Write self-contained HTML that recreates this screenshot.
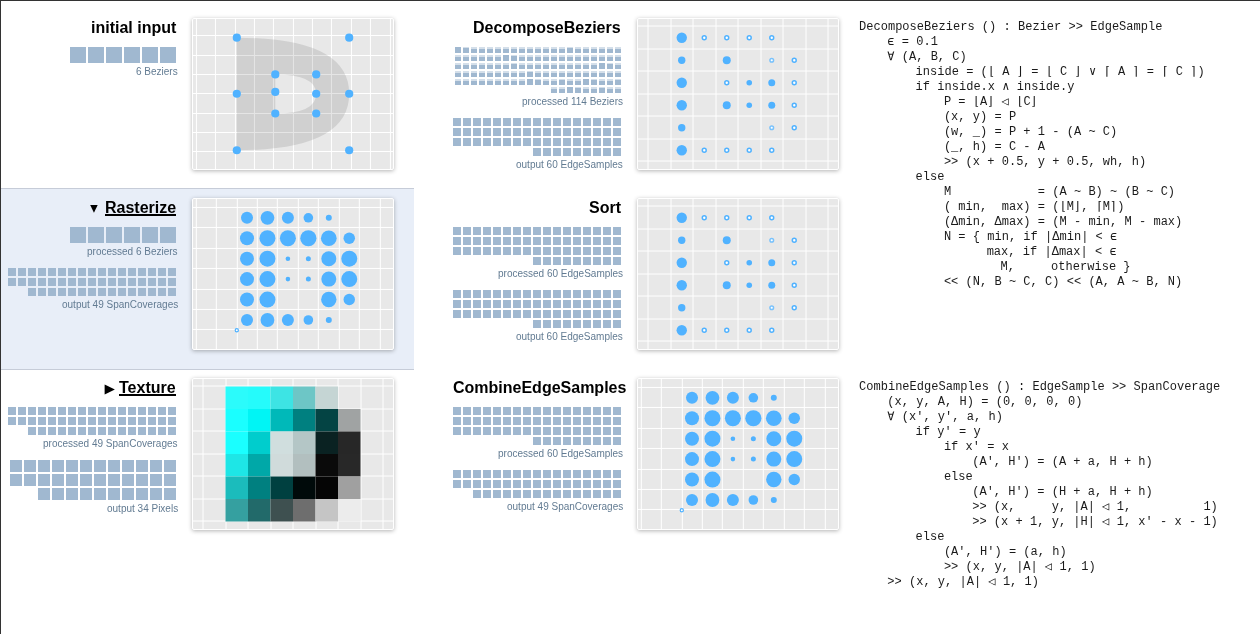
<!DOCTYPE html>
<html lang="en"><head><meta charset="utf-8"><title>Nile Viewer</title>
<style>
html,body{margin:0;padding:0;background:#fff}
body{width:1260px;height:634px;position:relative;overflow:hidden;font-family:"Liberation Sans",sans-serif}
.bt{position:absolute;left:0;top:0;width:1260px;height:1px;background:#333}
.bl{position:absolute;left:0;top:0;width:1px;height:634px;background:#333}
.sel{position:absolute;left:1px;top:188px;width:413px;height:180px;background:#e8eef8;border-top:1px solid #c6ccd8;border-bottom:1px solid #c6ccd8}
.t{will-change:transform;position:absolute;font-weight:bold;font-size:16px;line-height:18px;height:18px;white-space:nowrap;color:#000}
.t u{text-decoration:none}
.ul{position:absolute;height:2px;background:#000}
.cap{will-change:transform;position:absolute;font-size:10px;line-height:12px;height:12px;color:#627b92;white-space:nowrap}
.cv{position:absolute;width:200px;height:150px;border:1px solid #fff;border-radius:2px;box-shadow:0 1px 4px rgba(0,0,0,.3);background:#e8e8e8;overflow:hidden}
.cv svg{display:block}
svg.b{position:absolute;shape-rendering:crispEdges}
svg.tri{position:absolute}
pre{will-change:transform;position:absolute;margin:0;font-family:"Liberation Mono",monospace;font-size:12px;line-height:15px;color:#1a1a1a;letter-spacing:0.024px}
pre b{display:inline-block;height:1px}
pre i{font-style:normal;display:inline-block;width:7.224px;text-align:center;letter-spacing:0}
</style></head><body>
<div class="bt"></div><div class="bl"></div>
<div class="sel"></div>
<div class="t" style="right:1084px;top:19px">initial input</div>
<svg class="b" style="left:70px;top:47px" width="106" height="16" viewBox="0 0 106 16"><path fill="#a0b8d0" d="M0 0h16v16h-16zM18 0h16v16h-16zM36 0h16v16h-16zM54 0h16v16h-16zM72 0h16v16h-16zM90 0h16v16h-16z"/></svg>
<div class="cap" style="right:1082px;top:66px">6 Beziers</div>
<div class="t" style="right:1084px;top:199px"><u>Rasterize</u></div>
<div class="ul" style="left:105px;top:214px;width:71px"></div>
<svg class="tri" style="left:89px;top:204px" width="10" height="10" viewBox="0 0 10 10"><path d="M1.2 1L8.7 1L4.95 8.7z" fill="#000"/></svg>
<svg class="b" style="left:70px;top:227px" width="106" height="16" viewBox="0 0 106 16"><path fill="#a0b8d0" d="M0 0h16v16h-16zM18 0h16v16h-16zM36 0h16v16h-16zM54 0h16v16h-16zM72 0h16v16h-16zM90 0h16v16h-16z"/></svg>
<div class="cap" style="right:1082px;top:246px">processed 6 Beziers</div>
<svg class="b" style="left:8px;top:268px" width="168" height="28" viewBox="0 0 168 28"><path fill="#a0b8d0" d="M0 0h8v8h-8zM10 0h8v8h-8zM20 0h8v8h-8zM30 0h8v8h-8zM40 0h8v8h-8zM50 0h8v8h-8zM60 0h8v8h-8zM70 0h8v8h-8zM80 0h8v8h-8zM90 0h8v8h-8zM100 0h8v8h-8zM110 0h8v8h-8zM120 0h8v8h-8zM130 0h8v8h-8zM140 0h8v8h-8zM150 0h8v8h-8zM160 0h8v8h-8zM0 10h8v8h-8zM10 10h8v8h-8zM20 10h8v8h-8zM30 10h8v8h-8zM40 10h8v8h-8zM50 10h8v8h-8zM60 10h8v8h-8zM70 10h8v8h-8zM80 10h8v8h-8zM90 10h8v8h-8zM100 10h8v8h-8zM110 10h8v8h-8zM120 10h8v8h-8zM130 10h8v8h-8zM140 10h8v8h-8zM150 10h8v8h-8zM160 10h8v8h-8zM20 20h8v8h-8zM30 20h8v8h-8zM40 20h8v8h-8zM50 20h8v8h-8zM60 20h8v8h-8zM70 20h8v8h-8zM80 20h8v8h-8zM90 20h8v8h-8zM100 20h8v8h-8zM110 20h8v8h-8zM120 20h8v8h-8zM130 20h8v8h-8zM140 20h8v8h-8zM150 20h8v8h-8zM160 20h8v8h-8z"/></svg>
<div class="cap" style="right:1082px;top:299px">output 49 SpanCoverages</div>
<div class="t" style="right:1084px;top:379px"><u>Texture</u></div>
<div class="ul" style="left:119px;top:394px;width:57px"></div>
<svg class="tri" style="left:104px;top:384px" width="12" height="12" viewBox="0 0 12 12"><path d="M0.65 0.5L10.9 5.5L0.65 10.5z" fill="#000"/></svg>
<svg class="b" style="left:8px;top:407px" width="168" height="28" viewBox="0 0 168 28"><path fill="#a0b8d0" d="M0 0h8v8h-8zM10 0h8v8h-8zM20 0h8v8h-8zM30 0h8v8h-8zM40 0h8v8h-8zM50 0h8v8h-8zM60 0h8v8h-8zM70 0h8v8h-8zM80 0h8v8h-8zM90 0h8v8h-8zM100 0h8v8h-8zM110 0h8v8h-8zM120 0h8v8h-8zM130 0h8v8h-8zM140 0h8v8h-8zM150 0h8v8h-8zM160 0h8v8h-8zM0 10h8v8h-8zM10 10h8v8h-8zM20 10h8v8h-8zM30 10h8v8h-8zM40 10h8v8h-8zM50 10h8v8h-8zM60 10h8v8h-8zM70 10h8v8h-8zM80 10h8v8h-8zM90 10h8v8h-8zM100 10h8v8h-8zM110 10h8v8h-8zM120 10h8v8h-8zM130 10h8v8h-8zM140 10h8v8h-8zM150 10h8v8h-8zM160 10h8v8h-8zM20 20h8v8h-8zM30 20h8v8h-8zM40 20h8v8h-8zM50 20h8v8h-8zM60 20h8v8h-8zM70 20h8v8h-8zM80 20h8v8h-8zM90 20h8v8h-8zM100 20h8v8h-8zM110 20h8v8h-8zM120 20h8v8h-8zM130 20h8v8h-8zM140 20h8v8h-8zM150 20h8v8h-8zM160 20h8v8h-8z"/></svg>
<div class="cap" style="right:1082px;top:438px">processed 49 SpanCoverages</div>
<svg class="b" style="left:10px;top:460px" width="166" height="40" viewBox="0 0 166 40"><path fill="#a0b8d0" d="M0 0h12v12h-12zM14 0h12v12h-12zM28 0h12v12h-12zM42 0h12v12h-12zM56 0h12v12h-12zM70 0h12v12h-12zM84 0h12v12h-12zM98 0h12v12h-12zM112 0h12v12h-12zM126 0h12v12h-12zM140 0h12v12h-12zM154 0h12v12h-12zM0 14h12v12h-12zM14 14h12v12h-12zM28 14h12v12h-12zM42 14h12v12h-12zM56 14h12v12h-12zM70 14h12v12h-12zM84 14h12v12h-12zM98 14h12v12h-12zM112 14h12v12h-12zM126 14h12v12h-12zM140 14h12v12h-12zM154 14h12v12h-12zM28 28h12v12h-12zM42 28h12v12h-12zM56 28h12v12h-12zM70 28h12v12h-12zM84 28h12v12h-12zM98 28h12v12h-12zM112 28h12v12h-12zM126 28h12v12h-12zM140 28h12v12h-12zM154 28h12v12h-12z"/></svg>
<div class="cap" style="right:1082px;top:503px">output 34 Pixels</div>
<div class="t" style="right:639px;top:19px">DecomposeBeziers</div>
<svg class="b" style="left:455px;top:47px" width="166" height="46" viewBox="0 0 166 46"><path fill="#d4dfea" d="M8 0h6v1h-6zM16 0h6v2h-6zM24 0h6v2h-6zM32 0h6v2h-6zM40 0h6v2h-6zM48 0h6v2h-6zM56 0h6v2h-6zM64 0h6v2h-6zM72 0h6v2h-6zM80 0h6v2h-6zM88 0h6v2h-6zM96 0h6v2h-6zM104 0h6v2h-6zM112 0h6v0.5h-6zM120 0h6v2h-6zM128 0h6v2h-6zM136 0h6v2h-6zM144 0h6v2h-6zM152 0h6v2h-6zM160 0h6v2h-6zM0 8h6v2h-6zM8 8h6v2h-6zM16 8h6v2h-6zM24 8h6v2h-6zM32 8h6v2h-6zM40 8h6v2h-6zM56 8h6v1h-6zM64 8h6v2h-6zM72 8h6v2h-6zM80 8h6v2h-6zM88 8h6v2h-6zM96 8h6v2h-6zM104 8h6v2h-6zM112 8h6v2h-6zM120 8h6v2h-6zM128 8h6v2h-6zM136 8h6v2h-6zM144 8h6v2h-6zM152 8h6v2h-6zM160 8h6v2h-6zM0 16h6v2h-6zM8 16h6v2h-6zM16 16h6v2h-6zM24 16h6v2h-6zM32 16h6v2h-6zM40 16h6v2h-6zM48 16h6v2h-6zM56 16h6v1h-6zM64 16h6v2h-6zM72 16h6v2h-6zM80 16h6v2h-6zM88 16h6v2h-6zM96 16h6v2h-6zM104 16h6v2h-6zM112 16h6v2h-6zM120 16h6v2h-6zM128 16h6v2h-6zM136 16h6v2h-6zM152 16h6v1h-6zM160 16h6v2h-6zM0 24h6v2h-6zM8 24h6v2h-6zM16 24h6v2h-6zM24 24h6v2h-6zM32 24h6v2h-6zM40 24h6v2h-6zM48 24h6v2h-6zM56 24h6v2h-6zM64 24h6v2h-6zM72 24h6v0.5h-6zM80 24h6v2h-6zM88 24h6v2h-6zM96 24h6v2h-6zM104 24h6v2h-6zM112 24h6v2h-6zM120 24h6v2h-6zM128 24h6v2h-6zM136 24h6v2h-6zM144 24h6v2h-6zM152 24h6v2h-6zM160 24h6v2h-6zM0 32h6v2h-6zM8 32h6v2h-6zM16 32h6v2h-6zM24 32h6v2h-6zM32 32h6v2h-6zM40 32h6v2h-6zM48 32h6v2h-6zM56 32h6v2h-6zM64 32h6v2h-6zM80 32h6v1h-6zM88 32h6v2h-6zM96 32h6v2h-6zM104 32h6v1h-6zM112 32h6v2h-6zM120 32h6v2h-6zM136 32h6v1h-6zM144 32h6v2h-6zM152 32h6v2h-6zM160 32h6v1h-6zM96 40h6v2h-6zM104 40h6v2h-6zM120 40h6v1h-6zM128 40h6v2h-6zM136 40h6v2h-6zM144 40h6v1h-6zM152 40h6v2h-6zM160 40h6v2h-6z"/><path fill="#a0b8d0" d="M0 0h6v6h-6zM8 1h6v5h-6zM16 2h6v4h-6zM24 2h6v4h-6zM32 2h6v4h-6zM40 2h6v4h-6zM48 2h6v4h-6zM56 2h6v4h-6zM64 2h6v4h-6zM72 2h6v4h-6zM80 2h6v4h-6zM88 2h6v4h-6zM96 2h6v4h-6zM104 2h6v4h-6zM112 0.5h6v5.5h-6zM120 2h6v4h-6zM128 2h6v4h-6zM136 2h6v4h-6zM144 2h6v4h-6zM152 2h6v4h-6zM160 2h6v4h-6zM0 10h6v4h-6zM8 10h6v4h-6zM16 10h6v4h-6zM24 10h6v4h-6zM32 10h6v4h-6zM40 10h6v4h-6zM48 8h6v6h-6zM56 9h6v5h-6zM64 10h6v4h-6zM72 10h6v4h-6zM80 10h6v4h-6zM88 10h6v4h-6zM96 10h6v4h-6zM104 10h6v4h-6zM112 10h6v4h-6zM120 10h6v4h-6zM128 10h6v4h-6zM136 10h6v4h-6zM144 10h6v4h-6zM152 10h6v4h-6zM160 10h6v4h-6zM0 18h6v4h-6zM8 18h6v4h-6zM16 18h6v4h-6zM24 18h6v4h-6zM32 18h6v4h-6zM40 18h6v4h-6zM48 18h6v4h-6zM56 17h6v5h-6zM64 18h6v4h-6zM72 18h6v4h-6zM80 18h6v4h-6zM88 18h6v4h-6zM96 18h6v4h-6zM104 18h6v4h-6zM112 18h6v4h-6zM120 18h6v4h-6zM128 18h6v4h-6zM136 18h6v4h-6zM144 16h6v6h-6zM152 17h6v5h-6zM160 18h6v4h-6zM0 26h6v4h-6zM8 26h6v4h-6zM16 26h6v4h-6zM24 26h6v4h-6zM32 26h6v4h-6zM40 26h6v4h-6zM48 26h6v4h-6zM56 26h6v4h-6zM64 26h6v4h-6zM72 24.5h6v5.5h-6zM80 26h6v4h-6zM88 26h6v4h-6zM96 26h6v4h-6zM104 26h6v4h-6zM112 26h6v4h-6zM120 26h6v4h-6zM128 26h6v4h-6zM136 26h6v4h-6zM144 26h6v4h-6zM152 26h6v4h-6zM160 26h6v4h-6zM0 34h6v4h-6zM8 34h6v4h-6zM16 34h6v4h-6zM24 34h6v4h-6zM32 34h6v4h-6zM40 34h6v4h-6zM48 34h6v4h-6zM56 34h6v4h-6zM64 34h6v4h-6zM72 32h6v6h-6zM80 33h6v5h-6zM88 34h6v4h-6zM96 34h6v4h-6zM104 33h6v5h-6zM112 34h6v4h-6zM120 34h6v4h-6zM128 32h6v6h-6zM136 33h6v5h-6zM144 34h6v4h-6zM152 34h6v4h-6zM160 33h6v5h-6zM96 42h6v4h-6zM104 42h6v4h-6zM112 40h6v6h-6zM120 41h6v5h-6zM128 42h6v4h-6zM136 42h6v4h-6zM144 41h6v5h-6zM152 42h6v4h-6zM160 42h6v4h-6z"/></svg>
<div class="cap" style="right:637px;top:96px">processed 114 Beziers</div>
<svg class="b" style="left:453px;top:118px" width="168" height="38" viewBox="0 0 168 38"><path fill="#a0b8d0" d="M0 0h8v8h-8zM10 0h8v8h-8zM20 0h8v8h-8zM30 0h8v8h-8zM40 0h8v8h-8zM50 0h8v8h-8zM60 0h8v8h-8zM70 0h8v8h-8zM80 0h8v8h-8zM90 0h8v8h-8zM100 0h8v8h-8zM110 0h8v8h-8zM120 0h8v8h-8zM130 0h8v8h-8zM140 0h8v8h-8zM150 0h8v8h-8zM160 0h8v8h-8zM0 10h8v8h-8zM10 10h8v8h-8zM20 10h8v8h-8zM30 10h8v8h-8zM40 10h8v8h-8zM50 10h8v8h-8zM60 10h8v8h-8zM70 10h8v8h-8zM80 10h8v8h-8zM90 10h8v8h-8zM100 10h8v8h-8zM110 10h8v8h-8zM120 10h8v8h-8zM130 10h8v8h-8zM140 10h8v8h-8zM150 10h8v8h-8zM160 10h8v8h-8zM0 20h8v8h-8zM10 20h8v8h-8zM20 20h8v8h-8zM30 20h8v8h-8zM40 20h8v8h-8zM50 20h8v8h-8zM60 20h8v8h-8zM70 20h8v8h-8zM80 20h8v8h-8zM90 20h8v8h-8zM100 20h8v8h-8zM110 20h8v8h-8zM120 20h8v8h-8zM130 20h8v8h-8zM140 20h8v8h-8zM150 20h8v8h-8zM160 20h8v8h-8zM80 30h8v8h-8zM90 30h8v8h-8zM100 30h8v8h-8zM110 30h8v8h-8zM120 30h8v8h-8zM130 30h8v8h-8zM140 30h8v8h-8zM150 30h8v8h-8zM160 30h8v8h-8z"/></svg>
<div class="cap" style="right:637px;top:159px">output 60 EdgeSamples</div>
<div class="t" style="right:639px;top:199px">Sort</div>
<svg class="b" style="left:453px;top:227px" width="168" height="38" viewBox="0 0 168 38"><path fill="#a0b8d0" d="M0 0h8v8h-8zM10 0h8v8h-8zM20 0h8v8h-8zM30 0h8v8h-8zM40 0h8v8h-8zM50 0h8v8h-8zM60 0h8v8h-8zM70 0h8v8h-8zM80 0h8v8h-8zM90 0h8v8h-8zM100 0h8v8h-8zM110 0h8v8h-8zM120 0h8v8h-8zM130 0h8v8h-8zM140 0h8v8h-8zM150 0h8v8h-8zM160 0h8v8h-8zM0 10h8v8h-8zM10 10h8v8h-8zM20 10h8v8h-8zM30 10h8v8h-8zM40 10h8v8h-8zM50 10h8v8h-8zM60 10h8v8h-8zM70 10h8v8h-8zM80 10h8v8h-8zM90 10h8v8h-8zM100 10h8v8h-8zM110 10h8v8h-8zM120 10h8v8h-8zM130 10h8v8h-8zM140 10h8v8h-8zM150 10h8v8h-8zM160 10h8v8h-8zM0 20h8v8h-8zM10 20h8v8h-8zM20 20h8v8h-8zM30 20h8v8h-8zM40 20h8v8h-8zM50 20h8v8h-8zM60 20h8v8h-8zM70 20h8v8h-8zM80 20h8v8h-8zM90 20h8v8h-8zM100 20h8v8h-8zM110 20h8v8h-8zM120 20h8v8h-8zM130 20h8v8h-8zM140 20h8v8h-8zM150 20h8v8h-8zM160 20h8v8h-8zM80 30h8v8h-8zM90 30h8v8h-8zM100 30h8v8h-8zM110 30h8v8h-8zM120 30h8v8h-8zM130 30h8v8h-8zM140 30h8v8h-8zM150 30h8v8h-8zM160 30h8v8h-8z"/></svg>
<div class="cap" style="right:637px;top:268px">processed 60 EdgeSamples</div>
<svg class="b" style="left:453px;top:290px" width="168" height="38" viewBox="0 0 168 38"><path fill="#a0b8d0" d="M0 0h8v8h-8zM10 0h8v8h-8zM20 0h8v8h-8zM30 0h8v8h-8zM40 0h8v8h-8zM50 0h8v8h-8zM60 0h8v8h-8zM70 0h8v8h-8zM80 0h8v8h-8zM90 0h8v8h-8zM100 0h8v8h-8zM110 0h8v8h-8zM120 0h8v8h-8zM130 0h8v8h-8zM140 0h8v8h-8zM150 0h8v8h-8zM160 0h8v8h-8zM0 10h8v8h-8zM10 10h8v8h-8zM20 10h8v8h-8zM30 10h8v8h-8zM40 10h8v8h-8zM50 10h8v8h-8zM60 10h8v8h-8zM70 10h8v8h-8zM80 10h8v8h-8zM90 10h8v8h-8zM100 10h8v8h-8zM110 10h8v8h-8zM120 10h8v8h-8zM130 10h8v8h-8zM140 10h8v8h-8zM150 10h8v8h-8zM160 10h8v8h-8zM0 20h8v8h-8zM10 20h8v8h-8zM20 20h8v8h-8zM30 20h8v8h-8zM40 20h8v8h-8zM50 20h8v8h-8zM60 20h8v8h-8zM70 20h8v8h-8zM80 20h8v8h-8zM90 20h8v8h-8zM100 20h8v8h-8zM110 20h8v8h-8zM120 20h8v8h-8zM130 20h8v8h-8zM140 20h8v8h-8zM150 20h8v8h-8zM160 20h8v8h-8zM80 30h8v8h-8zM90 30h8v8h-8zM100 30h8v8h-8zM110 30h8v8h-8zM120 30h8v8h-8zM130 30h8v8h-8zM140 30h8v8h-8zM150 30h8v8h-8zM160 30h8v8h-8z"/></svg>
<div class="cap" style="right:637px;top:331px">output 60 EdgeSamples</div>
<div class="t" style="left:453px;top:379px">CombineEdgeSamples</div>
<svg class="b" style="left:453px;top:407px" width="168" height="38" viewBox="0 0 168 38"><path fill="#a0b8d0" d="M0 0h8v8h-8zM10 0h8v8h-8zM20 0h8v8h-8zM30 0h8v8h-8zM40 0h8v8h-8zM50 0h8v8h-8zM60 0h8v8h-8zM70 0h8v8h-8zM80 0h8v8h-8zM90 0h8v8h-8zM100 0h8v8h-8zM110 0h8v8h-8zM120 0h8v8h-8zM130 0h8v8h-8zM140 0h8v8h-8zM150 0h8v8h-8zM160 0h8v8h-8zM0 10h8v8h-8zM10 10h8v8h-8zM20 10h8v8h-8zM30 10h8v8h-8zM40 10h8v8h-8zM50 10h8v8h-8zM60 10h8v8h-8zM70 10h8v8h-8zM80 10h8v8h-8zM90 10h8v8h-8zM100 10h8v8h-8zM110 10h8v8h-8zM120 10h8v8h-8zM130 10h8v8h-8zM140 10h8v8h-8zM150 10h8v8h-8zM160 10h8v8h-8zM0 20h8v8h-8zM10 20h8v8h-8zM20 20h8v8h-8zM30 20h8v8h-8zM40 20h8v8h-8zM50 20h8v8h-8zM60 20h8v8h-8zM70 20h8v8h-8zM80 20h8v8h-8zM90 20h8v8h-8zM100 20h8v8h-8zM110 20h8v8h-8zM120 20h8v8h-8zM130 20h8v8h-8zM140 20h8v8h-8zM150 20h8v8h-8zM160 20h8v8h-8zM80 30h8v8h-8zM90 30h8v8h-8zM100 30h8v8h-8zM110 30h8v8h-8zM120 30h8v8h-8zM130 30h8v8h-8zM140 30h8v8h-8zM150 30h8v8h-8zM160 30h8v8h-8z"/></svg>
<div class="cap" style="right:637px;top:448px">processed 60 EdgeSamples</div>
<svg class="b" style="left:453px;top:470px" width="168" height="28" viewBox="0 0 168 28"><path fill="#a0b8d0" d="M0 0h8v8h-8zM10 0h8v8h-8zM20 0h8v8h-8zM30 0h8v8h-8zM40 0h8v8h-8zM50 0h8v8h-8zM60 0h8v8h-8zM70 0h8v8h-8zM80 0h8v8h-8zM90 0h8v8h-8zM100 0h8v8h-8zM110 0h8v8h-8zM120 0h8v8h-8zM130 0h8v8h-8zM140 0h8v8h-8zM150 0h8v8h-8zM160 0h8v8h-8zM0 10h8v8h-8zM10 10h8v8h-8zM20 10h8v8h-8zM30 10h8v8h-8zM40 10h8v8h-8zM50 10h8v8h-8zM60 10h8v8h-8zM70 10h8v8h-8zM80 10h8v8h-8zM90 10h8v8h-8zM100 10h8v8h-8zM110 10h8v8h-8zM120 10h8v8h-8zM130 10h8v8h-8zM140 10h8v8h-8zM150 10h8v8h-8zM160 10h8v8h-8zM20 20h8v8h-8zM30 20h8v8h-8zM40 20h8v8h-8zM50 20h8v8h-8zM60 20h8v8h-8zM70 20h8v8h-8zM80 20h8v8h-8zM90 20h8v8h-8zM100 20h8v8h-8zM110 20h8v8h-8zM120 20h8v8h-8zM130 20h8v8h-8zM140 20h8v8h-8zM150 20h8v8h-8zM160 20h8v8h-8z"/></svg>
<div class="cap" style="right:637px;top:501px">output 49 SpanCoverages</div>
<div class="cv" style="left:192px;top:18px"><svg width="200" height="150" viewBox="0 0 200 150"><path d="M3.44 0V150M22.44 0V150M42.44 0V150M61.44 0V150M80.44 0V150M100.44 0V150M119.44 0V150M138.44 0V150M158.44 0V150M177.44 0V150M197.44 0V150M0 16.5H200M0 36.5H200M0 55.5H200M0 74.5H200M0 94.5H200M0 113.5H200M0 132.5H200" stroke="#fff" stroke-width="1" fill="none"/><path fill="rgba(0,0,0,0.1)" fill-rule="evenodd" d="M43.8 18.7Q156.2 18.7 156.2 74.75Q156.2 131.25 43.8 131.25ZM82.3 55.4Q123.2 55.4 123.2 74.75Q123.2 94.5 82.3 94.5Z"/><g fill="#50b2ff"><circle cx="43.8" cy="18.7" r="4.1"/><circle cx="156.2" cy="18.7" r="4.1"/><circle cx="82.3" cy="55.4" r="4.1"/><circle cx="123.2" cy="55.4" r="4.1"/><circle cx="43.8" cy="74.75" r="4.1"/><circle cx="82.3" cy="72.9" r="4.1"/><circle cx="123.2" cy="74.75" r="4.1"/><circle cx="156.2" cy="74.75" r="4.1"/><circle cx="82.3" cy="94.5" r="4.1"/><circle cx="123.2" cy="94.5" r="4.1"/><circle cx="43.8" cy="131.25" r="4.1"/><circle cx="156.2" cy="131.25" r="4.1"/></g></svg></div>
<div class="cv" style="left:192px;top:198px"><svg width="200" height="150" viewBox="0 0 200 150"><path d="M3.3 0V150M23.3 0V150M44.3 0V150M64.3 0V150M84.3 0V150M105.3 0V150M125.3 0V150M146.3 0V150M166.3 0V150M187.3 0V150M0 8.45H200M0 28.45H200M0 49.45H200M0 69.45H200M0 90.45H200M0 110.45H200M0 130.45H200" stroke="#fff" stroke-width="1" fill="none"/><g fill="#50b2ff"><circle cx="54" cy="18.8" r="6"/><circle cx="74.45" cy="18.8" r="6.9"/><circle cx="94.9" cy="18.8" r="6"/><circle cx="115.35" cy="18.8" r="4.8"/><circle cx="135.8" cy="18.8" r="3"/><circle cx="54" cy="39.24" r="7"/><circle cx="74.45" cy="39.24" r="8"/><circle cx="94.9" cy="39.24" r="8"/><circle cx="115.35" cy="39.24" r="8.1"/><circle cx="135.8" cy="39.24" r="7.85"/><circle cx="156.25" cy="39.24" r="5.75"/><circle cx="54" cy="59.68" r="7"/><circle cx="74.45" cy="59.68" r="8"/><circle cx="94.9" cy="59.68" r="2.3"/><circle cx="115.35" cy="59.68" r="2.5"/><circle cx="135.8" cy="59.68" r="7.5"/><circle cx="156.25" cy="59.68" r="8"/><circle cx="54" cy="80.12" r="7"/><circle cx="74.45" cy="80.12" r="8"/><circle cx="94.9" cy="80.12" r="2.3"/><circle cx="115.35" cy="80.12" r="2.5"/><circle cx="135.8" cy="80.12" r="7.5"/><circle cx="156.25" cy="80.12" r="8"/><circle cx="54" cy="100.56" r="7"/><circle cx="74.45" cy="100.56" r="8"/><circle cx="135.8" cy="100.56" r="7.7"/><circle cx="156.25" cy="100.56" r="5.7"/><circle cx="54" cy="121" r="6"/><circle cx="74.45" cy="121" r="6.9"/><circle cx="94.9" cy="121" r="6"/><circle cx="115.35" cy="121" r="4.8"/><circle cx="135.8" cy="121" r="3"/></g><circle cx="43.8" cy="131.2" r="1.6" fill="#fff" stroke="#50b2ff" stroke-width="1.2"/></svg></div>
<div class="cv" style="left:637px;top:378px"><svg width="200" height="150" viewBox="0 0 200 150"><path d="M3.3 0V150M23.3 0V150M44.3 0V150M64.3 0V150M84.3 0V150M105.3 0V150M125.3 0V150M146.3 0V150M166.3 0V150M187.3 0V150M0 8.45H200M0 28.45H200M0 49.45H200M0 69.45H200M0 90.45H200M0 110.45H200M0 130.45H200" stroke="#fff" stroke-width="1" fill="none"/><g fill="#50b2ff"><circle cx="54" cy="18.8" r="6"/><circle cx="74.45" cy="18.8" r="6.9"/><circle cx="94.9" cy="18.8" r="6"/><circle cx="115.35" cy="18.8" r="4.8"/><circle cx="135.8" cy="18.8" r="3"/><circle cx="54" cy="39.24" r="7"/><circle cx="74.45" cy="39.24" r="8"/><circle cx="94.9" cy="39.24" r="8"/><circle cx="115.35" cy="39.24" r="8.1"/><circle cx="135.8" cy="39.24" r="7.85"/><circle cx="156.25" cy="39.24" r="5.75"/><circle cx="54" cy="59.68" r="7"/><circle cx="74.45" cy="59.68" r="8"/><circle cx="94.9" cy="59.68" r="2.3"/><circle cx="115.35" cy="59.68" r="2.5"/><circle cx="135.8" cy="59.68" r="7.5"/><circle cx="156.25" cy="59.68" r="8"/><circle cx="54" cy="80.12" r="7"/><circle cx="74.45" cy="80.12" r="8"/><circle cx="94.9" cy="80.12" r="2.3"/><circle cx="115.35" cy="80.12" r="2.5"/><circle cx="135.8" cy="80.12" r="7.5"/><circle cx="156.25" cy="80.12" r="8"/><circle cx="54" cy="100.56" r="7"/><circle cx="74.45" cy="100.56" r="8"/><circle cx="135.8" cy="100.56" r="7.7"/><circle cx="156.25" cy="100.56" r="5.7"/><circle cx="54" cy="121" r="6"/><circle cx="74.45" cy="121" r="6.9"/><circle cx="94.9" cy="121" r="6"/><circle cx="115.35" cy="121" r="4.8"/><circle cx="135.8" cy="121" r="3"/></g><circle cx="43.8" cy="131.2" r="1.6" fill="#fff" stroke="#50b2ff" stroke-width="1.2"/></svg></div>
<div class="cv" style="left:637px;top:18px"><svg width="200" height="150" viewBox="0 0 200 150"><path d="M10 0V150M33 0V150M55 0V150M78 0V150M100 0V150M123 0V150M145 0V150M168 0V150M190 0V150M0 7H200M0 30H200M0 52H200M0 75H200M0 97H200M0 120H200M0 142H200" stroke="#fff" stroke-width="1" fill="none"/><g fill="#50b2ff"><circle cx="43.75" cy="18.75" r="5.2"/><circle cx="43.75" cy="41.25" r="3.7"/><circle cx="88.75" cy="41.25" r="4"/><circle cx="43.75" cy="63.75" r="5.2"/><circle cx="111.25" cy="63.75" r="2.8"/><circle cx="133.75" cy="63.75" r="3.5"/><circle cx="43.75" cy="86.25" r="5.2"/><circle cx="88.75" cy="86.25" r="4"/><circle cx="111.25" cy="86.25" r="2.8"/><circle cx="133.75" cy="86.25" r="3.5"/><circle cx="43.75" cy="108.75" r="3.7"/><circle cx="43.75" cy="131.25" r="5.2"/></g><g fill="#fff" stroke="#50b2ff"><circle cx="66.25" cy="18.75" r="1.95" stroke-width="1.5"/><circle cx="88.75" cy="18.75" r="1.95" stroke-width="1.5"/><circle cx="111.25" cy="18.75" r="1.95" stroke-width="1.5"/><circle cx="133.75" cy="18.75" r="1.95" stroke-width="1.5"/><circle cx="133.75" cy="41.25" r="1.8" stroke-width="1.5" stroke-opacity="0.75"/><circle cx="156.25" cy="41.25" r="1.95" stroke-width="1.5"/><circle cx="88.75" cy="63.75" r="1.95" stroke-width="1.5"/><circle cx="156.25" cy="63.75" r="1.95" stroke-width="1.5"/><circle cx="156.25" cy="86.25" r="1.95" stroke-width="1.5"/><circle cx="133.75" cy="108.75" r="1.8" stroke-width="1.5" stroke-opacity="0.75"/><circle cx="156.25" cy="108.75" r="1.95" stroke-width="1.5"/><circle cx="66.25" cy="131.25" r="1.95" stroke-width="1.5"/><circle cx="88.75" cy="131.25" r="1.95" stroke-width="1.5"/><circle cx="111.25" cy="131.25" r="1.95" stroke-width="1.5"/><circle cx="133.75" cy="131.25" r="1.95" stroke-width="1.5"/></g></svg></div>
<div class="cv" style="left:637px;top:198px"><svg width="200" height="150" viewBox="0 0 200 150"><path d="M10 0V150M33 0V150M55 0V150M78 0V150M100 0V150M123 0V150M145 0V150M168 0V150M190 0V150M0 7H200M0 30H200M0 52H200M0 75H200M0 97H200M0 120H200M0 142H200" stroke="#fff" stroke-width="1" fill="none"/><g fill="#50b2ff"><circle cx="43.75" cy="18.75" r="5.2"/><circle cx="43.75" cy="41.25" r="3.7"/><circle cx="88.75" cy="41.25" r="4"/><circle cx="43.75" cy="63.75" r="5.2"/><circle cx="111.25" cy="63.75" r="2.8"/><circle cx="133.75" cy="63.75" r="3.5"/><circle cx="43.75" cy="86.25" r="5.2"/><circle cx="88.75" cy="86.25" r="4"/><circle cx="111.25" cy="86.25" r="2.8"/><circle cx="133.75" cy="86.25" r="3.5"/><circle cx="43.75" cy="108.75" r="3.7"/><circle cx="43.75" cy="131.25" r="5.2"/></g><g fill="#fff" stroke="#50b2ff"><circle cx="66.25" cy="18.75" r="1.95" stroke-width="1.5"/><circle cx="88.75" cy="18.75" r="1.95" stroke-width="1.5"/><circle cx="111.25" cy="18.75" r="1.95" stroke-width="1.5"/><circle cx="133.75" cy="18.75" r="1.95" stroke-width="1.5"/><circle cx="133.75" cy="41.25" r="1.8" stroke-width="1.5" stroke-opacity="0.75"/><circle cx="156.25" cy="41.25" r="1.95" stroke-width="1.5"/><circle cx="88.75" cy="63.75" r="1.95" stroke-width="1.5"/><circle cx="156.25" cy="63.75" r="1.95" stroke-width="1.5"/><circle cx="156.25" cy="86.25" r="1.95" stroke-width="1.5"/><circle cx="133.75" cy="108.75" r="1.8" stroke-width="1.5" stroke-opacity="0.75"/><circle cx="156.25" cy="108.75" r="1.95" stroke-width="1.5"/><circle cx="66.25" cy="131.25" r="1.95" stroke-width="1.5"/><circle cx="88.75" cy="131.25" r="1.95" stroke-width="1.5"/><circle cx="111.25" cy="131.25" r="1.95" stroke-width="1.5"/><circle cx="133.75" cy="131.25" r="1.95" stroke-width="1.5"/></g></svg></div>
<div class="cv" style="left:192px;top:378px"><svg width="200" height="150" viewBox="0 0 200 150"><path d="M10 0V150M33 0V150M55 0V150M78 0V150M100 0V150M123 0V150M145 0V150M168 0V150M190 0V150M0 7H200M0 30H200M0 52H200M0 75H200M0 97H200M0 120H200M0 142H200" stroke="#fff" stroke-width="1" fill="none"/><rect x="32.5" y="7.5" width="22.5" height="22.5" fill="#2bfbfb"/><rect x="55" y="7.5" width="22.5" height="22.5" fill="#25fbfb"/><rect x="77.5" y="7.5" width="22.5" height="22.5" fill="#3de4e4"/><rect x="100" y="7.5" width="22.5" height="22.5" fill="#6dc6c6"/><rect x="122.5" y="7.5" width="22.5" height="22.5" fill="#c5d5d4"/><rect x="32.5" y="30" width="22.5" height="22.5" fill="#1affff"/><rect x="55" y="30" width="22.5" height="22.5" fill="#00f5f5"/><rect x="77.5" y="30" width="22.5" height="22.5" fill="#00b9b9"/><rect x="100" y="30" width="22.5" height="22.5" fill="#008080"/><rect x="122.5" y="30" width="22.5" height="22.5" fill="#044444"/><rect x="145" y="30" width="22.5" height="22.5" fill="#a0a3a3"/><rect x="32.5" y="52.5" width="22.5" height="22.5" fill="#1affff"/><rect x="55" y="52.5" width="22.5" height="22.5" fill="#00cdcd"/><rect x="77.5" y="52.5" width="22.5" height="22.5" fill="#d0dede"/><rect x="100" y="52.5" width="22.5" height="22.5" fill="#b4c6c6"/><rect x="122.5" y="52.5" width="22.5" height="22.5" fill="#0a2222"/><rect x="145" y="52.5" width="22.5" height="22.5" fill="#272727"/><rect x="32.5" y="75" width="22.5" height="22.5" fill="#1ee6e6"/><rect x="55" y="75" width="22.5" height="22.5" fill="#00a8a8"/><rect x="77.5" y="75" width="22.5" height="22.5" fill="#d0dbdb"/><rect x="100" y="75" width="22.5" height="22.5" fill="#b2bfbf"/><rect x="122.5" y="75" width="22.5" height="22.5" fill="#0a0a0a"/><rect x="145" y="75" width="22.5" height="22.5" fill="#282828"/><rect x="32.5" y="97.5" width="22.5" height="22.5" fill="#1bbcbc"/><rect x="55" y="97.5" width="22.5" height="22.5" fill="#008080"/><rect x="77.5" y="97.5" width="22.5" height="22.5" fill="#004040"/><rect x="100" y="97.5" width="22.5" height="22.5" fill="#000a0a"/><rect x="122.5" y="97.5" width="22.5" height="22.5" fill="#050505"/><rect x="145" y="97.5" width="22.5" height="22.5" fill="#a0a0a0"/><rect x="32.5" y="120" width="22.5" height="22.5" fill="#35a0a0"/><rect x="55" y="120" width="22.5" height="22.5" fill="#226a6a"/><rect x="77.5" y="120" width="22.5" height="22.5" fill="#3e5050"/><rect x="100" y="120" width="22.5" height="22.5" fill="#6e6e6e"/><rect x="122.5" y="120" width="22.5" height="22.5" fill="#c5c5c5"/><rect x="145" y="120" width="22.5" height="22.5" fill="#ececec"/></svg></div>
<pre style="left:859px;top:20px">DecomposeBeziers () : Bezier &gt;&gt; EdgeSample
<b style="width:28.3px"></b>ϵ = 0.1
<b style="width:28.3px"></b><i>∀</i> (A, B, C)
<b style="width:56.6px"></b>inside = (<i>⌊</i> A <i>⌋</i> = <i>⌊</i> C <i>⌋</i> <i>∨</i> <i>⌈</i> A <i>⌉</i> = <i>⌈</i> C <i>⌉</i>)
<b style="width:56.6px"></b>if inside.x <i>∧</i> inside.y
<b style="width:84.9px"></b>P = <i>⌊</i>A<i>⌋</i> <i>◁</i> <i>⌊</i>C<i>⌋</i>
<b style="width:84.9px"></b>(x, y) = P
<b style="width:84.9px"></b>(w, _) = P + 1 - (A ~ C)
<b style="width:84.9px"></b>(_, h) = C - A
<b style="width:84.9px"></b>&gt;&gt; (x + 0.5, y + 0.5, wh, h)
<b style="width:56.6px"></b>else
<b style="width:84.9px"></b>M            = (A ~ B) ~ (B ~ C)
<b style="width:84.9px"></b>( min,  max) = (<i>⌊</i>M<i>⌋</i>, <i>⌈</i>M<i>⌉</i>)
<b style="width:84.9px"></b>(Δmin, Δmax) = (M - min, M - max)
<b style="width:84.9px"></b>N = { min, if |Δmin| &lt; ϵ
<b style="width:113.2px"></b>  max, if |Δmax| &lt; ϵ
<b style="width:141.5px"></b>M,     otherwise }
<b style="width:84.9px"></b>&lt;&lt; (N, B ~ C, C) &lt;&lt; (A, A ~ B, N)</pre>
<pre style="left:859px;top:380px">CombineEdgeSamples () : EdgeSample &gt;&gt; SpanCoverage
<b style="width:28.3px"></b>(x, y, A, H) = (0, 0, 0, 0)
<b style="width:28.3px"></b><i>∀</i> (x', y', a, h)
<b style="width:56.6px"></b>if y' = y
<b style="width:84.9px"></b>if x' = x
<b style="width:113.2px"></b>(A', H') = (A + a, H + h)
<b style="width:84.9px"></b>else
<b style="width:113.2px"></b>(A', H') = (H + a, H + h)
<b style="width:113.2px"></b>&gt;&gt; (x,     y, |A| <i>◁</i> 1,          1)
<b style="width:113.2px"></b>&gt;&gt; (x + 1, y, |H| <i>◁</i> 1, x' - x - 1)
<b style="width:56.6px"></b>else
<b style="width:84.9px"></b>(A', H') = (a, h)
<b style="width:84.9px"></b>&gt;&gt; (x, y, |A| <i>◁</i> 1, 1)
<b style="width:28.3px"></b>&gt;&gt; (x, y, |A| <i>◁</i> 1, 1)</pre>
</body></html>
